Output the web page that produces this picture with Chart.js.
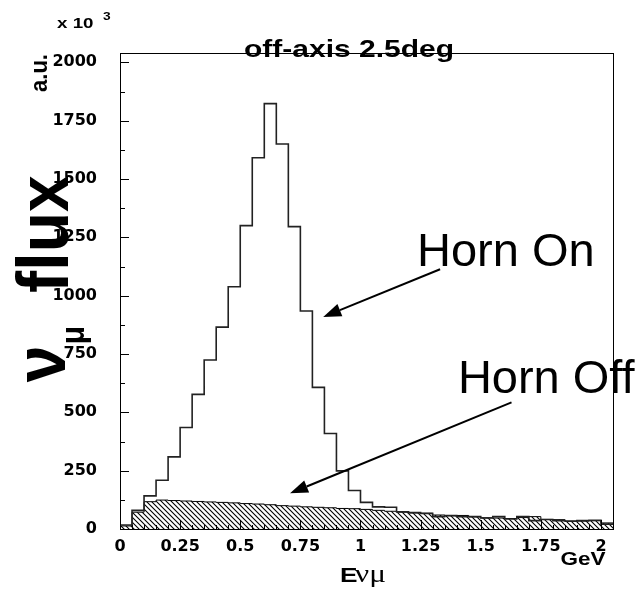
<!DOCTYPE html>
<html>
<head>
<meta charset="utf-8">
<script src="https://cdn.jsdelivr.net/npm/chart.js@4.4.0/dist/chart.umd.min.js"></script>
<style>
  body { margin: 0; background: #fff; }
  #wrap { width: 640px; height: 590px; }
</style>
</head>
<body>
<div id="wrap"><canvas id="flux" width="640" height="590"></canvas></div>
<script>
// histogramas de fluxo (unidades de 10^3), bins de 0.05 GeV a partir de 0
const binWidth = 0.05;
const hornOn = [17, 80, 142, 209, 309, 435, 577, 724, 865, 1038,
                1300, 1591, 1823, 1650, 1296, 934, 607, 409, 249, 165,
                114, 95, 93, 74, 70, 67, 53, 58, 53, 53,
                47, 53, 43, 53, 36, 41, 36, 34, 36, 37, 21];
const hornOff = [13, 72, 117, 124, 122, 120, 118, 116, 114, 112,
                 109, 107, 104, 100, 98, 95, 93, 91, 88, 87,
                 84, 80, 76, 72, 69, 67, 60, 56, 58, 52,
                 48, 47, 45, 49, 53, 41, 40, 33, 34, 36, 26];

// eixos
const xMax = 2.05, yMax = 2040;
const xTickValues = [0, 0.25, 0.5, 0.75, 1, 1.25, 1.5, 1.75, 2];
const yTickValues = [0, 250, 500, 750, 1000, 1250, 1500, 1750, 2000];

// setas e rótulos em coordenadas de dados
const labelHornOn = { text: 'Horn On', x: 1.235, y: 1126 };
const labelHornOff = { text: 'Horn Off', x: 1.405, y: 582 };
const arrowHornOn = { from: [1.331, 1113], to: [0.845, 909] };
const arrowHornOff = { from: [1.628, 543], to: [0.707, 153] };

// histograma -> pontos para linha em degrau
function toSteps(values) {
    const pts = [{ x: 0, y: values[0] }];
    values.forEach((v, i) => pts.push({ x: (i + 1) * binWidth, y: v }));
    return pts;
}

// hachura diagonal do "Horn Off"
function makeHatch() {
    const p = 5;
    const c = document.createElement('canvas');
    c.width = p; c.height = p;
    const g = c.getContext('2d');
    g.strokeStyle = '#000';
    g.lineWidth = 1.1;
    g.beginPath();
    g.moveTo(-1, -1); g.lineTo(p + 1, p + 1);
    g.moveTo(-1, p - 1); g.lineTo(1, p + 1);
    g.moveTo(p - 1, -1); g.lineTo(p + 1, 1);
    g.stroke();
    return g.createPattern(c, 'repeat');
}

const SX = 1.25; // texto horizontal mais largo
const SR = 1.1;  // texto girado

function wideText(ctx, text, x, y, font, align, rot) {
    ctx.save();
    ctx.translate(x, y);
    ctx.scale(rot ? SR : SX, 1);
    if (rot) ctx.rotate(rot);
    ctx.font = font;
    ctx.textAlign = align || 'left';
    ctx.fillText(text, 0, 0);
    ctx.restore();
}

function drawArrow(ctx, x1, y1, x2, y2) {
    const ang = Math.atan2(y2 - y1, x2 - x1);
    const len = 18, half = 6.5;
    const bx = x2 - len * Math.cos(ang), by = y2 - len * Math.sin(ang);
    ctx.beginPath();
    ctx.moveTo(x1, y1);
    ctx.lineTo(bx, by);
    ctx.lineWidth = 2;
    ctx.strokeStyle = '#000';
    ctx.stroke();
    ctx.beginPath();
    ctx.moveTo(x2, y2);
    ctx.lineTo(bx - half * Math.sin(ang), by + half * Math.cos(ang));
    ctx.lineTo(bx + half * Math.sin(ang), by - half * Math.cos(ang));
    ctx.closePath();
    ctx.fillStyle = '#000';
    ctx.fill();
}

// moldura, marcas internas e textos
const framePlugin = {
    id: 'frame',
    afterDraw(chart) {
        const ctx = chart.ctx;
        const a = chart.chartArea;
        const xs = chart.scales.x, ys = chart.scales.y;
        ctx.save();
        ctx.strokeStyle = '#000';
        ctx.lineWidth = 1;
        ctx.strokeRect(a.left + 0.5, a.top + 0.5, a.right - a.left, a.bottom - a.top);

        ctx.beginPath();
        for (let v = 0; v <= 2000; v += 125) {
            const y = Math.round(ys.getPixelForValue(v)) + 0.5;
            const len = (v % 250 === 0) ? 9 : 5;
            ctx.moveTo(a.left, y); ctx.lineTo(a.left + len, y);
        }
        for (let i = 0; i <= 40; i++) {
            const x = Math.round(xs.getPixelForValue(i * binWidth)) + 0.5;
            const len = (i % 5 === 0) ? 9 : 4;
            ctx.moveTo(x, a.bottom); ctx.lineTo(x, a.bottom - len);
        }
        ctx.stroke();

        ctx.fillStyle = '#000';
        ctx.textBaseline = 'alphabetic';
        // título
        wideText(ctx, 'off-axis 2.5deg', 349, 57, 'bold 24px "Liberation Sans"', 'center');
        // fator de escala
        wideText(ctx, 'x 10', 57, 28, 'bold 15px "Liberation Sans"', 'left');
        wideText(ctx, '3', 103, 20, 'bold 11px "Liberation Sans"', 'left');
        // título do eixo y
        wideText(ctx, 'a.u.', 47, 73, 'bold 22px "Liberation Sans"', 'center', -Math.PI / 2);
        wideText(ctx, 'flux', 68, 234, 'bold 66px "Liberation Sans"', 'center', -Math.PI / 2);
        wideText(ctx, 'ν', 65, 364, 'bold 66px "Liberation Sans"', 'center', -Math.PI / 2);
        wideText(ctx, 'μ', 84, 335, 'bold 30px "Liberation Sans"', 'center', -Math.PI / 2);
        // título do eixo x
        wideText(ctx, 'E', 340, 582, 'bold 21px "Liberation Sans"', 'left');
        wideText(ctx, 'νμ', 355, 582, '25px "Liberation Serif"', 'left');
        wideText(ctx, 'GeV', 583, 565, 'bold 18px "Liberation Sans"', 'center');

        // anotações
        ctx.font = '47px "Liberation Sans"';
        ctx.textAlign = 'left';
        [labelHornOn, labelHornOff].forEach(l => {
            ctx.fillText(l.text, xs.getPixelForValue(l.x), ys.getPixelForValue(l.y));
        });
        [arrowHornOn, arrowHornOff].forEach(ar => {
            drawArrow(ctx,
                xs.getPixelForValue(ar.from[0]), ys.getPixelForValue(ar.from[1]),
                xs.getPixelForValue(ar.to[0]), ys.getPixelForValue(ar.to[1]));
        });
        ctx.restore();
    }
};

const tickFont = { family: 'DejaVu Sans', weight: 'bold', size: 16 };

const ctx = document.getElementById('flux').getContext('2d');
new Chart(ctx, {
    type: 'line',
    data: {
        datasets: [
            {
                label: 'Horn On',
                data: toSteps(hornOn),
                stepped: 'after',
                borderColor: '#222',
                borderWidth: 1.6,
                pointRadius: 0,
                fill: false
            },
            {
                label: 'Horn Off',
                data: toSteps(hornOff),
                stepped: 'after',
                borderColor: '#000',
                borderWidth: 1,
                pointRadius: 0,
                backgroundColor: makeHatch(),
                fill: 'origin'
            }
        ]
    },
    options: {
        responsive: false,
        animation: false,
        layout: { padding: { top: 53, right: 27, left: 0, bottom: 0 } },
        plugins: {
            legend: { display: false },
            tooltip: { enabled: false }
        },
        scales: {
            x: {
                type: 'linear',
                min: 0,
                max: xMax,
                grid: { display: false, drawTicks: false },
                border: { display: false },
                ticks: {
                    padding: 8,
                    maxRotation: 0,
                    autoSkip: false,
                    color: '#000',
                    font: tickFont,
                    callback: v => String(v)
                },
                afterBuildTicks(scale) { scale.ticks = xTickValues.map(v => ({ value: v })); },
                afterFit(scale) { scale.height = 61; }
            },
            y: {
                min: 0,
                max: yMax,
                grid: { display: false, drawTicks: false },
                border: { display: false },
                ticks: {
                    padding: 23,
                    autoSkip: false,
                    color: '#000',
                    font: tickFont,
                    callback: v => String(v)
                },
                afterBuildTicks(scale) { scale.ticks = yTickValues.map(v => ({ value: v })); },
                afterFit(scale) { scale.width = 120; }
            }
        }
    },
    plugins: [framePlugin]
});
</script>
</body>
</html>
